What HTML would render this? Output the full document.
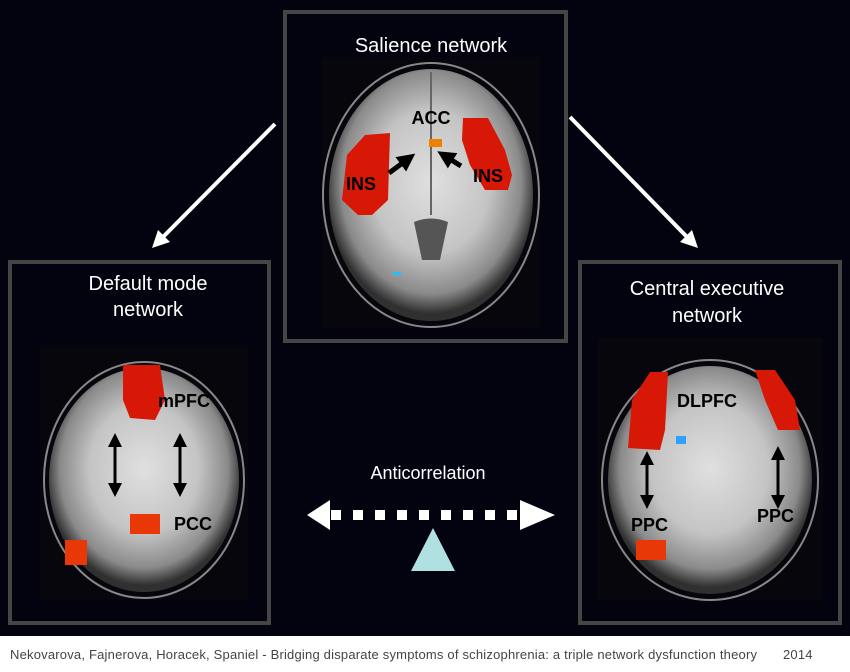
<!DOCTYPE html>
<html><head><meta charset="utf-8"><style>
html,body{margin:0;padding:0;background:#03030f;}
body{width:850px;height:672px;position:relative;overflow:hidden;font-family:"Liberation Sans",sans-serif;}
.cap{position:absolute;left:0;top:636px;width:850px;height:36px;background:#fff;}
.cap span{position:absolute;top:11px;font-size:13px;color:#444;letter-spacing:0.2px;white-space:nowrap;}
</style></head><body>
<svg width="850" height="636" style="position:absolute;left:0;top:0">
<defs>
<radialGradient id="br" cx="50%" cy="45%" r="52%">
<stop offset="0" stop-color="#e0e0e0"/><stop offset="0.55" stop-color="#c4c4c4"/><stop offset="0.85" stop-color="#8a8a8a"/><stop offset="1" stop-color="#303030"/></radialGradient>
<marker id="ah" markerUnits="userSpaceOnUse" markerWidth="14" markerHeight="14" refX="7" refY="7" orient="auto-start-reverse"><path d="M0,0L14,7L0,14z" fill="#000"/></marker>
<marker id="ah2" markerUnits="userSpaceOnUse" markerWidth="18" markerHeight="18" refX="9" refY="9" orient="auto"><path d="M0,0L18,9L0,18z" fill="#000"/></marker>
</defs>
<!-- Salience -->
<rect x="285" y="12" width="281" height="329" fill="none" stroke="#454545" stroke-width="4"/>
<rect x="322" y="57" width="218" height="271" fill="#06060c"/>
<ellipse cx="431" cy="195" rx="108" ry="132" fill="none" stroke="#888" stroke-width="2"/>
<ellipse cx="431" cy="195" rx="102" ry="126" fill="url(#br)"/>
<line x1="431" y1="72" x2="431" y2="215" stroke="#666" stroke-width="2"/>
<path d="M414 222 Q431 215 448 222 L440 260 L422 260z" fill="#555"/>
<path d="M365 135 L390 133 L388 200 L372 215 L358 215 L342 200 L347 155z" fill="#d81806"/>
<path d="M463 118 L488 118 L505 150 L512 175 L508 190 L485 190 L470 165 L462 140z" fill="#d81806"/>
<rect x="429" y="139" width="13" height="8" fill="#f08000"/>
<rect x="393" y="272" width="8" height="3" fill="#20c0ff"/>
<text x="431" y="52" fill="#fff" font-size="20" text-anchor="middle">Salience network</text>
<line x1="389" y1="173" x2="408" y2="159" stroke="#000" stroke-width="5" marker-end="url(#ah2)"/>
<line x1="461" y1="166" x2="445" y2="156" stroke="#000" stroke-width="5" marker-end="url(#ah2)"/>
<!-- big arrows -->
<line x1="275" y1="124" x2="162" y2="238" stroke="#fff" stroke-width="4"/>
<path d="M152 248 L158 230 L170 242z" fill="#fff"/>
<line x1="570" y1="117" x2="688" y2="238" stroke="#fff" stroke-width="4"/>
<path d="M698 248 L680 242 L692 230z" fill="#fff"/>
<!-- Default mode -->
<rect x="10" y="262" width="259" height="361" fill="none" stroke="#454545" stroke-width="4"/>
<rect x="40" y="345" width="208" height="255" fill="#06060c"/>
<ellipse cx="144" cy="480" rx="100" ry="118" fill="none" stroke="#888" stroke-width="2"/>
<ellipse cx="144" cy="480" rx="95" ry="112" fill="url(#br)"/>
<path d="M123 365 L160 365 L165 400 L155 420 L130 418 L123 400z" fill="#d81806"/>
<rect x="130" y="514" width="30" height="20" fill="#e83808"/>
<rect x="65" y="540" width="22" height="25" fill="#e83808"/>
<text x="148" y="290" fill="#fff" font-size="20" text-anchor="middle">Default mode</text>
<text x="148" y="316" fill="#fff" font-size="20" text-anchor="middle">network</text>
<g stroke="#000" stroke-width="3" marker-start="url(#ah)" marker-end="url(#ah)"><line x1="115" y1="440" x2="115" y2="490"/><line x1="180" y1="440" x2="180" y2="490"/></g>
<!-- Central -->
<rect x="580" y="262" width="260" height="361" fill="none" stroke="#454545" stroke-width="4"/>
<rect x="597" y="338" width="226" height="262" fill="#06060c"/>
<ellipse cx="710" cy="480" rx="108" ry="120" fill="none" stroke="#888" stroke-width="2"/>
<ellipse cx="710" cy="480" rx="102" ry="114" fill="url(#br)"/>
<path d="M650 372 L668 372 L665 430 L660 450 L628 448 L632 400z" fill="#d81806"/>
<path d="M755 370 L775 370 L795 400 L800 430 L778 430 L765 400z" fill="#d81806"/>
<rect x="636" y="540" width="30" height="20" fill="#e83808"/>
<rect x="676" y="436" width="10" height="8" fill="#30a0ff"/>
<text x="707" y="295" fill="#fff" font-size="20" text-anchor="middle">Central executive</text>
<text x="707" y="322" fill="#fff" font-size="20" text-anchor="middle">network</text>
<g stroke="#000" stroke-width="3" marker-start="url(#ah)" marker-end="url(#ah)"><line x1="647" y1="458" x2="647" y2="502"/><line x1="778" y1="453" x2="778" y2="502"/></g>
<!-- Anticorrelation -->
<text x="428" y="479" fill="#fff" font-size="18" text-anchor="middle">Anticorrelation</text>
<path d="M307 515 L330 500 L330 530z" fill="#fff"/>
<path d="M555 515 L520 500 L520 530z" fill="#fff"/>
<g fill="#fff"><rect x="331" y="510" width="10" height="10"/><rect x="353" y="510" width="10" height="10"/><rect x="375" y="510" width="10" height="10"/><rect x="397" y="510" width="10" height="10"/><rect x="419" y="510" width="10" height="10"/><rect x="441" y="510" width="10" height="10"/><rect x="463" y="510" width="10" height="10"/><rect x="485" y="510" width="10" height="10"/><rect x="507" y="510" width="10" height="10"/></g>
<path d="M433 528 L455 571 L411 571z" fill="#b0e0e0"/>
<!-- labels on top -->
<g font-weight="bold" fill="#000" font-size="18">
<text x="431" y="124" text-anchor="middle">ACC</text>
<text x="346" y="190">INS</text>
<text x="473" y="182">INS</text>
<text x="158" y="407">mPFC</text>
<text x="174" y="530">PCC</text>
<text x="677" y="407">DLPFC</text>
<text x="631" y="531">PPC</text>
<text x="757" y="522">PPC</text>
</g>
</svg>
<div class="cap"><span style="left:10px">Nekovarova, Fajnerova, Horacek, Spaniel - Bridging disparate symptoms of schizophrenia: a triple network dysfunction theory</span><span style="left:783px">2014</span></div>
</body></html>
